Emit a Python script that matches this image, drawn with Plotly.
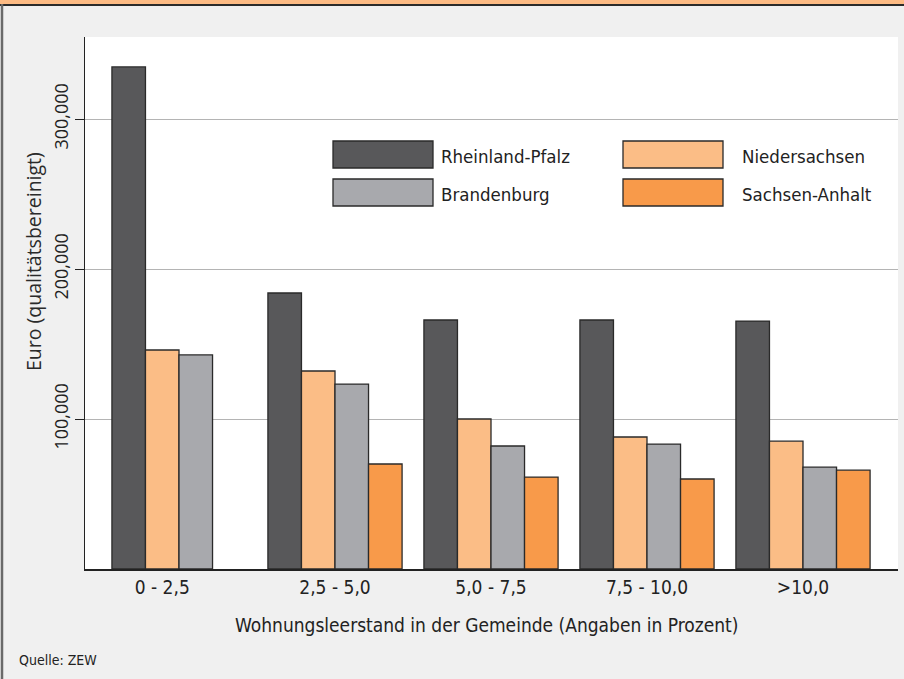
import plotly.graph_objects as go

# ---------------- data ----------------
categories = ["0 - 2,5", "2,5 - 5,0", "5,0 - 7,5", "7,5 - 10,0", ">10,0"]
series_names = ["Rheinland-Pfalz", "Niedersachsen", "Brandenburg", "Sachsen-Anhalt"]
rheinland_pfalz = [334700, 184000, 166000, 166000, 165300]
niedersachsen = [146000, 132000, 100000, 88000, 85200]
brandenburg = [142700, 123300, 82000, 83300, 67900]
sachsen_anhalt = [None, 70000, 61300, 60000, 65900]
y_tickvals = [100000, 200000, 300000]
y_ticktext = ["100,000", "200,000", "300,000"]

series_values = [rheinland_pfalz, niedersachsen, brandenburg, sachsen_anhalt]
colors = ["#58585a", "#fbbd86", "#a8a9ad", "#f89a4a"]

# ---------------- layout constants ----------------
W, H = 904, 679
L, R, T, B = 85, 6, 37, 110
BARGAP = 0.14
COND = "Liberation Sans Narrow, DejaVu Sans Condensed, Arial Narrow, sans-serif"
TICKF = "Open Sans, sans-serif"

pw, ph = W - L - R, H - T - B


def px(x):
    return (x - L) / pw


def py(y):
    return (H - B - y) / ph


x_pos = list(range(len(categories)))
slot = (1 - BARGAP) / len(series_names)
# first group has no value for the last series -> label centred on the three present bars
tick_pos = [x - (slot / 2 if sachsen_anhalt[i] is None else 0) for i, x in enumerate(x_pos)]

fig = go.Figure()
for name, vals, col in zip(series_names, series_values, colors):
    fig.add_trace(go.Bar(
        x=x_pos, y=vals, name=name, marker_color=col,
        marker_line_color="#2a2a2a", marker_line_width=1.3,
        showlegend=False,
    ))

shapes = []
annotations = []

# frame: orange top band, dark rule, left border
shapes.append(dict(type="rect", xref="paper", yref="paper", x0=px(0), x1=px(W), y0=py(0), y1=py(4.5),
                   fillcolor="#fdbb84", line_width=0, layer="above"))
shapes.append(dict(type="line", xref="paper", yref="paper", x0=px(0), x1=px(W), y0=py(5), y1=py(5),
                   line=dict(color="#2b2b2b", width=2), layer="above"))
shapes.append(dict(type="line", xref="paper", yref="paper", x0=px(2), x1=px(2), y0=py(4), y1=py(H),
                   line=dict(color="#6a6a6a", width=2.5), layer="above"))

# custom legend with large swatches (2 x 2)
leg_cells = [(333, 141), (623, 141), (333, 179), (623, 179)]
text_x = [439, 740, 439, 740]
for (x0, y0), tx, name, col in zip(leg_cells, text_x, series_names, colors):
    shapes.append(dict(type="rect", xref="paper", yref="paper", x0=px(x0), x1=px(x0 + 100),
                       y0=py(y0 + 27), y1=py(y0), fillcolor=col,
                       line=dict(color="#2a2a2a", width=1.3), layer="above"))
    annotations.append(dict(xref="paper", yref="paper", x=px(tx), y=py(y0 + 15), text=name,
                            showarrow=False, xanchor="left", yanchor="middle",
                            font=dict(family=COND, size=18.5, color="#222")))

# axis titles and source
annotations.append(dict(xref="paper", yref="paper", x=px(486), y=py(625),
                        text="Wohnungsleerstand in der Gemeinde (Angaben in Prozent)",
                        showarrow=False, xanchor="center", yanchor="middle",
                        font=dict(family=COND, size=19, color="#222")))
annotations.append(dict(xref="paper", yref="paper", x=px(33), y=py(262),
                        text="Euro (qualitätsbereinigt)", textangle=-90,
                        showarrow=False, xanchor="center", yanchor="middle",
                        font=dict(family=TICKF, size=19.5, color="#2a2a2a")))
annotations.append(dict(xref="paper", yref="paper", x=px(17), y=py(660),
                        text="Quelle: ZEW", showarrow=False, xanchor="left", yanchor="middle",
                        font=dict(family=COND, size=14, color="#222")))

fig.update_layout(
    width=W, height=H,
    margin=dict(l=L, r=R, t=T, b=B, pad=0),
    paper_bgcolor="#f0f0f0", plot_bgcolor="#ffffff",
    barmode="group", bargap=BARGAP, bargroupgap=0,
    shapes=shapes, annotations=annotations,
    xaxis=dict(range=[-0.6026, 4.609], tickvals=tick_pos, ticktext=categories,
               showgrid=False, zeroline=False, showline=True, linecolor="#222", linewidth=2,
               ticks="", tickfont=dict(family=COND, size=19, color="#222"), fixedrange=True),
    yaxis=dict(range=[0, 354667], tickvals=y_tickvals, ticktext=y_ticktext, tickangle=-90,
               showgrid=True, gridcolor="#b4b4b4", gridwidth=1, zeroline=False,
               showline=True, linecolor="#222", linewidth=1.3,
               ticks="outside", ticklen=9, tickcolor="#222", tickwidth=1,
               tickfont=dict(family=TICKF, size=18, color="#222"), fixedrange=True),
)

fig.write_html("out.html")
